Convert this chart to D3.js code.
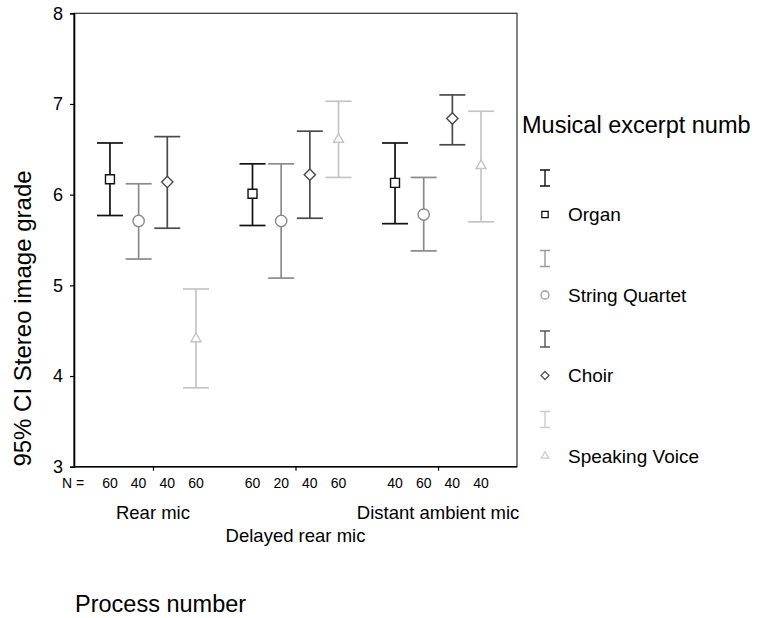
<!DOCTYPE html>
<html>
<head>
<meta charset="utf-8">
<script src="https://cdn.jsdelivr.net/npm/d3@7"></script>
<style>
  html, body { margin: 0; padding: 0; background: #fff; }
  svg { display: block; font-family: "Liberation Sans", Arial, sans-serif; }
</style>
</head>
<body>
<svg id="chart" width="762" height="618"></svg>
<script>
// ---- data ----
const categories = ["Rear mic", "Delayed rear mic", "Distant ambient mic"];
const series = ["Organ", "String Quartet", "Choir", "Speaking Voice"];
const meanValues = {
  "Organ":          [6.17, 6.01, 6.13],
  "String Quartet": [5.71, 5.71, 5.78],
  "Choir":          [6.14, 6.22, 6.84],
  "Speaking Voice": [4.41, 6.61, 6.32]
};
const lowerValues = {
  "Organ":          [5.77, 5.66, 5.68],
  "String Quartet": [5.29, 5.08, 5.38],
  "Choir":          [5.63, 5.74, 6.55],
  "Speaking Voice": [3.87, 6.19, 5.70]
};
const upperValues = {
  "Organ":          [6.57, 6.34, 6.57],
  "String Quartet": [6.12, 6.34, 6.19],
  "Choir":          [6.64, 6.70, 7.10],
  "Speaking Voice": [4.96, 7.03, 6.92]
};
const nValues = {
  "Organ":          [60, 60, 40],
  "String Quartet": [40, 20, 60],
  "Choir":          [40, 40, 40],
  "Speaking Voice": [60, 60, 40]
};
const yTicks = [3, 4, 5, 6, 7, 8];
const yTitle = "95% CI Stereo image grade";
const xTitle = "Process number";
const legendTitle = "Musical excerpt numb";

// ---- styles ----
const symbolRhombus = {
  draw(ctx, size) {
    const r = Math.sqrt(size / 2);
    ctx.moveTo(0, -r); ctx.lineTo(r, 0); ctx.lineTo(0, r); ctx.lineTo(-r, 0); ctx.closePath();
  }
};
const barColor = {"Organ": "#111111", "String Quartet": "#8a8a8a", "Choir": "#4a4a4a", "Speaking Voice": "#c4c4c4"};
const legendBarColor = {"Organ": "#111111", "String Quartet": "#9a9a9a", "Choir": "#555555", "Speaking Voice": "#cccccc"};
const markerType = {"Organ": d3.symbolSquare, "String Quartet": d3.symbolCircle, "Choir": symbolRhombus, "Speaking Voice": d3.symbolTriangle};
const markerSize = {"Organ": 80, "String Quartet": 100, "Choir": 64, "Speaking Voice": 44};
const legendMarkerSize = {"Organ": 40, "String Quartet": 50, "Choir": 32, "Speaking Voice": 24};

const svg = d3.select("#chart");
const pLeft = 74, pRight = 517, pTop = 13.3, pBottom = 466.7;

const y = d3.scaleLinear().domain([3, 8]).range([pBottom, pTop]);
const x = d3.scalePoint().domain(categories).range([pLeft, pRight]).padding(0.554);
const xs = d3.scalePoint().domain(series).range([-43, 43]);

// frame
svg.append("rect").attr("x", pLeft).attr("y", pTop).attr("width", pRight - pLeft).attr("height", pBottom - pTop)
  .attr("fill", "none").attr("stroke", "#333").attr("stroke-width", 1.2);

// y axis
const yAxis = d3.axisLeft(y).tickValues(yTicks).tickSize(4).tickPadding(7).tickFormat(d3.format("d"));
const gy = svg.append("g").attr("transform", `translate(${pLeft},0)`).call(yAxis);
gy.select(".domain").attr("stroke", "#000").attr("stroke-width", 1.6);
gy.selectAll(".tick line").attr("stroke", "#000").attr("stroke-width", 1.2);
gy.selectAll(".tick text").attr("font-size", 18).attr("font-family", "Liberation Sans, Arial, sans-serif").attr("fill", "#000");

// x axis (ticks only, labels custom)
const xAxis = d3.axisBottom(x).tickSize(4).tickFormat("");
const gx = svg.append("g").attr("transform", `translate(0,${pBottom})`).call(xAxis);
gx.select(".domain").attr("stroke", "#000").attr("stroke-width", 1.6).attr("d", `M${pLeft},0H${pRight}`);
gx.selectAll(".tick line").attr("stroke", "#000").attr("stroke-width", 1.2);

// category labels (staggered)
svg.append("g").selectAll("text").data(categories).join("text")
  .attr("x", d => x(d))
  .attr("y", (d, i) => i % 2 === 0 ? 519 : 541.5)
  .attr("text-anchor", "middle").attr("font-size", 18.5).attr("fill", "#000")
  .text(d => d);

// N labels
svg.append("text").attr("x", 62).attr("y", 488).attr("font-size", 14).attr("fill", "#000").text("N =");
const nData = [];
categories.forEach((c, ci) => series.forEach(s => nData.push({c, s, n: nValues[s][ci]})));
svg.append("g").selectAll("text").data(nData).join("text")
  .attr("x", d => x(d.c) + xs(d.s))
  .attr("y", 488).attr("text-anchor", "middle").attr("font-size", 14).attr("fill", "#000")
  .text(d => d.n);

// error bars
const capHalf = 13;
const bars = [];
series.forEach(s => categories.forEach((c, ci) => bars.push({
  s, c, mean: meanValues[s][ci], lo: lowerValues[s][ci], hi: upperValues[s][ci]
})));
const gb = svg.append("g");
const bg = gb.selectAll("g").data(bars).join("g")
  .attr("stroke", d => barColor[d.s]).attr("stroke-width", 1.7);
bg.append("line").attr("x1", d => x(d.c) + xs(d.s)).attr("x2", d => x(d.c) + xs(d.s))
  .attr("y1", d => y(d.lo)).attr("y2", d => y(d.hi));
bg.append("line").attr("x1", d => x(d.c) + xs(d.s) - capHalf).attr("x2", d => x(d.c) + xs(d.s) + capHalf)
  .attr("y1", d => y(d.hi)).attr("y2", d => y(d.hi));
bg.append("line").attr("x1", d => x(d.c) + xs(d.s) - capHalf).attr("x2", d => x(d.c) + xs(d.s) + capHalf)
  .attr("y1", d => y(d.lo)).attr("y2", d => y(d.lo));
bg.append("path")
  .attr("transform", d => `translate(${x(d.c) + xs(d.s)},${y(d.mean)})`)
  .attr("d", d => d3.symbol().type(markerType[d.s]).size(markerSize[d.s])())
  .attr("fill", "#fff").attr("stroke-width", 1.4);

// axis titles
svg.append("text").attr("transform", "translate(31,318.5) rotate(-90)")
  .attr("text-anchor", "middle").attr("font-size", 24).attr("fill", "#000").text(yTitle);
svg.append("text").attr("x", 75).attr("y", 611.5).attr("font-size", 23.5).attr("fill", "#000").text(xTitle);

// legend
svg.append("text").attr("x", 522).attr("y", 133).attr("font-size", 23.5).attr("fill", "#000").text(legendTitle);
const lg = svg.append("g").selectAll("g").data(series).join("g")
  .attr("transform", (d, i) => `translate(545,${178 + i * 80.5})`);
lg.append("path").attr("d", "M-5,-8H5M0,-8V8M-5,8H5")
  .attr("stroke", d => legendBarColor[d]).attr("stroke-width", 1.4).attr("fill", "none");
lg.append("path").attr("transform", "translate(0,36.5)")
  .attr("d", d => d3.symbol().type(markerType[d]).size(legendMarkerSize[d])())
  .attr("fill", "#fff").attr("stroke", d => legendBarColor[d]).attr("stroke-width", 1.3);
lg.append("text").attr("x", 23).attr("y", 43).attr("font-size", 19).attr("fill", "#000").text(d => d);
</script>
</body>
</html>
